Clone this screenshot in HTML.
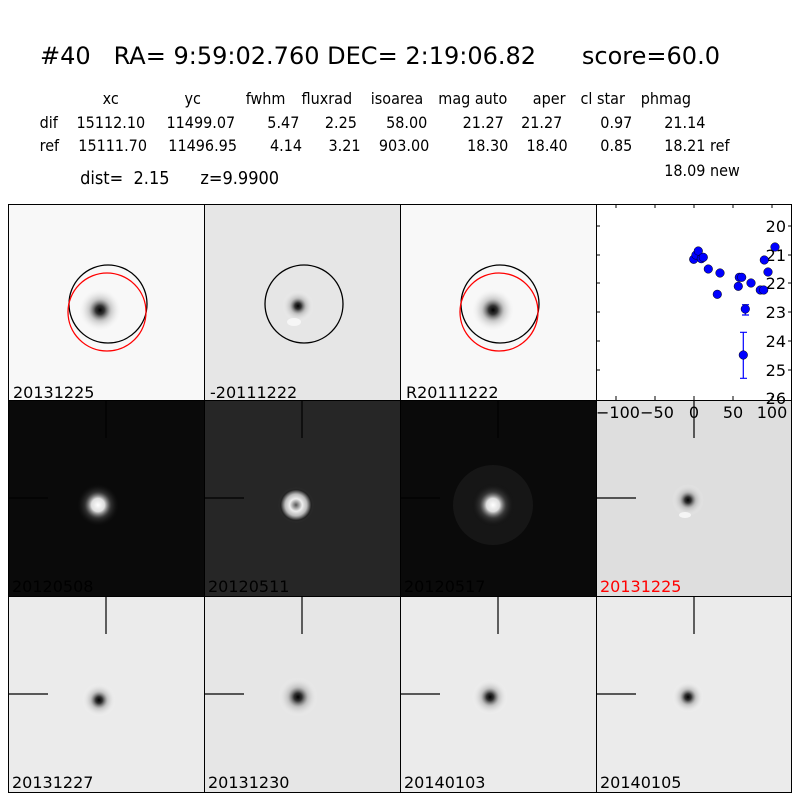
<!DOCTYPE html>
<html><head><meta charset="utf-8"><style>
html,body{margin:0;padding:0;background:#fff;}
svg{display:block;}
text{font-family:"DejaVu Sans","Liberation Sans",sans-serif;white-space:pre;}
</style></head><body>
<svg width="800" height="800" viewBox="0 0 800 800" xmlns="http://www.w3.org/2000/svg" xml:space="preserve">
<defs>
<radialGradient id="darkblob"><stop offset="0" stop-color="#000"/><stop offset="0.2" stop-color="#333"/><stop offset="0.5" stop-color="#aaa" stop-opacity="0.6"/><stop offset="1" stop-color="#fff" stop-opacity="0"/></radialGradient>
<radialGradient id="lightblob"><stop offset="0" stop-color="#fff"/><stop offset="0.3" stop-color="#ddd"/><stop offset="0.6" stop-color="#555" stop-opacity="0.5"/><stop offset="1" stop-color="#000" stop-opacity="0"/></radialGradient>
<radialGradient id="ring"><stop offset="0" stop-color="#555"/><stop offset="0.35" stop-color="#eee"/><stop offset="0.6" stop-color="#bbb"/><stop offset="0.85" stop-color="#222"/><stop offset="1" stop-color="#333" stop-opacity="0"/></radialGradient>
</defs>
<rect width="800" height="800" fill="#fff"/>
<text x="40" y="64" font-size="24" textLength="680" lengthAdjust="spacingAndGlyphs">#40   RA= 9:59:02.760 DEC= 2:19:06.82      score=60.0</text>
<g font-size="16" transform="scale(0.9,1)">
<text x="114" y="104">xc</text><text x="205" y="104">yc</text><text x="273" y="104">fwhm</text><text x="335" y="104">fluxrad</text><text x="412" y="104">isoarea</text><text x="487" y="104">mag auto</text><text x="592" y="104">aper</text><text x="645" y="104">cl star</text><text x="712" y="104">phmag</text>
<text x="44" y="128">dif</text><text x="85" y="128">15112.10</text><text x="185" y="128">11499.07</text><text x="297" y="128">5.47</text><text x="361" y="128">2.25</text><text x="429" y="128">58.00</text><text x="514" y="128">21.27</text><text x="579" y="128">21.27</text><text x="667" y="128">0.97</text><text x="738" y="128">21.14</text>
<text x="44" y="151">ref</text><text x="87" y="151">15111.70</text><text x="187" y="151">11496.95</text><text x="300" y="151">4.14</text><text x="365" y="151">3.21</text><text x="421" y="151">903.00</text><text x="519" y="151">18.30</text><text x="585" y="151">18.40</text><text x="667" y="151">0.85</text><text x="738" y="151">18.21 ref</text>
<text x="738" y="176">18.09 new</text>
<text x="89" y="184" font-size="18">dist=  2.15      z=9.9900</text>
</g>
<!-- row 1 -->
<rect x="8" y="204" width="196" height="196" fill="#f8f8f8"/>
<circle cx="100" cy="310" r="22" fill="url(#darkblob)"/>
<circle cx="108" cy="304" r="39" fill="none" stroke="#000" stroke-width="1.3"/>
<circle cx="107" cy="312" r="39" fill="none" stroke="#f00" stroke-width="1.3"/>
<rect x="204" y="204" width="196" height="196" fill="#e6e6e6"/>
<circle cx="298" cy="306" r="16" fill="url(#darkblob)"/>
<ellipse cx="294" cy="322" rx="7" ry="4" fill="#f6f6f6"/>
<circle cx="304" cy="304" r="39" fill="none" stroke="#000" stroke-width="1.3"/>
<rect x="400" y="204" width="196" height="196" fill="#f8f8f8"/>
<circle cx="493" cy="310" r="22" fill="url(#darkblob)"/>
<circle cx="500" cy="304" r="39" fill="none" stroke="#000" stroke-width="1.3"/>
<circle cx="499" cy="312" r="39" fill="none" stroke="#f00" stroke-width="1.3"/>
<!-- row 2 -->
<rect x="8" y="400" width="196" height="196" fill="#0a0a0a"/>
<circle cx="98" cy="505" r="22" fill="url(#lightblob)"/>
<rect x="204" y="400" width="196" height="196" fill="#262626"/>
<circle cx="296" cy="505" r="18" fill="url(#ring)"/>
<rect x="400" y="400" width="196" height="196" fill="#0a0a0a"/>
<circle cx="493" cy="505" r="40" fill="#222" opacity="0.5"/>
<circle cx="493" cy="505" r="22" fill="url(#lightblob)"/>
<rect x="596" y="400" width="196" height="196" fill="#dedede"/>
<circle cx="688" cy="500" r="16" fill="url(#darkblob)"/>
<ellipse cx="685" cy="515" rx="6" ry="3" fill="#f5f5f5"/>
<!-- row 3 -->
<rect x="8" y="596" width="196" height="196" fill="#ebebeb"/>
<circle cx="99" cy="700" r="17" fill="url(#darkblob)"/>
<rect x="204" y="596" width="196" height="196" fill="#e6e6e6"/>
<circle cx="298" cy="697" r="20" fill="url(#darkblob)"/>
<rect x="400" y="596" width="196" height="196" fill="#ebebeb"/>
<circle cx="490" cy="697" r="18" fill="url(#darkblob)"/>
<rect x="596" y="596" width="196" height="196" fill="#ebebeb"/>
<circle cx="688" cy="697" r="16" fill="url(#darkblob)"/>
<!-- crosshairs -->
<g stroke="#000" stroke-width="1.2">
<path d="M106 400V438M8 498H48M302 400V438M204 498H244M498 400V438M400 498H440M694 400V438M596 498H636"/>
<path d="M106 596V634M8 694H48M302 596V634M204 694H244M498 596V634M400 694H440M694 596V634M596 694H636"/>
</g>
<!-- labels -->
<g font-size="16">
<text x="13" y="398">20131225</text><text x="210" y="398">-20111222</text><text x="406" y="398">R20111222</text>
<text x="12" y="592">20120508</text><text x="208" y="592">20120511</text><text x="404" y="592">20120517</text><text x="600" y="592" fill="#f00">20131225</text>
<text x="12" y="788">20131227</text><text x="208" y="788">20131230</text><text x="404" y="788">20140103</text><text x="600" y="788">20140105</text>
</g>
<!-- scatter -->
<rect x="596" y="204" width="196" height="196" fill="#fff"/>
<g stroke="#000" stroke-width="1">
<path d="M596 226h4M596 255h4M596 283h4M596 312h4M596 341h4M596 370h4M792 226h-4M792 255h-4M792 283h-4M792 312h-4M792 341h-4M792 370h-4"/>
<path d="M616 204v4M655 204v4M694 204v4M733 204v4M772 204v4M616 400v-4M655 400v-4M694 400v-4M733 400v-4M772 400v-4"/>
</g>
<g font-size="16" text-anchor="end">
<text x="786" y="232">20</text><text x="786" y="261">21</text><text x="786" y="289">22</text><text x="786" y="318">23</text><text x="786" y="347">24</text><text x="786" y="376">25</text><text x="786" y="404">26</text>
</g>
<g font-size="16" text-anchor="middle">
<text x="618" y="418">−100</text><text x="657" y="418">−50</text><text x="694" y="418">0</text><text x="733" y="418">50</text><text x="772" y="418">100</text>
</g>
<g stroke="#00f" stroke-width="1.2">
<path d="M745.3 304.7V315M742 304.7h7M742 315h7M743.3 332.3V378.3M740 332.3h7M740 378.3h7"/>
</g>
<g fill="#00f" stroke="#000" stroke-width="0.5">
<circle cx="693.7" cy="259.3" r="4.3"/><circle cx="696" cy="255" r="4.3"/><circle cx="698.3" cy="251" r="4.3"/><circle cx="701.3" cy="258.7" r="4.3"/><circle cx="703.3" cy="257.3" r="4.3"/><circle cx="708.3" cy="269" r="4.3"/><circle cx="720" cy="273" r="4.3"/><circle cx="717.3" cy="294.3" r="4.3"/><circle cx="738.3" cy="286.3" r="4.3"/><circle cx="739.3" cy="277.3" r="4.3"/><circle cx="741.7" cy="277.3" r="4.3"/><circle cx="751" cy="283" r="4.3"/><circle cx="760.3" cy="290" r="4.3"/><circle cx="763.7" cy="290" r="4.3"/><circle cx="764.3" cy="260" r="4.3"/><circle cx="768" cy="272" r="4.3"/><circle cx="775" cy="247" r="4.3"/><circle cx="745.3" cy="309" r="4.3"/><circle cx="743.3" cy="355" r="4.3"/>
</g>
<!-- frames -->
<g fill="none" stroke="#000" stroke-width="1">
<rect x="8.5" y="204.5" width="196" height="196"/><rect x="204.5" y="204.5" width="196" height="196"/><rect x="400.5" y="204.5" width="196" height="196"/><rect x="596.5" y="204.5" width="195" height="196"/>
<rect x="8.5" y="400.5" width="196" height="196"/><rect x="204.5" y="400.5" width="196" height="196"/><rect x="400.5" y="400.5" width="196" height="196"/><rect x="596.5" y="400.5" width="195" height="196"/>
<rect x="8.5" y="596.5" width="196" height="196"/><rect x="204.5" y="596.5" width="196" height="196"/><rect x="400.5" y="596.5" width="196" height="196"/><rect x="596.5" y="596.5" width="195" height="196"/>
</g>
</svg>
</body></html>
